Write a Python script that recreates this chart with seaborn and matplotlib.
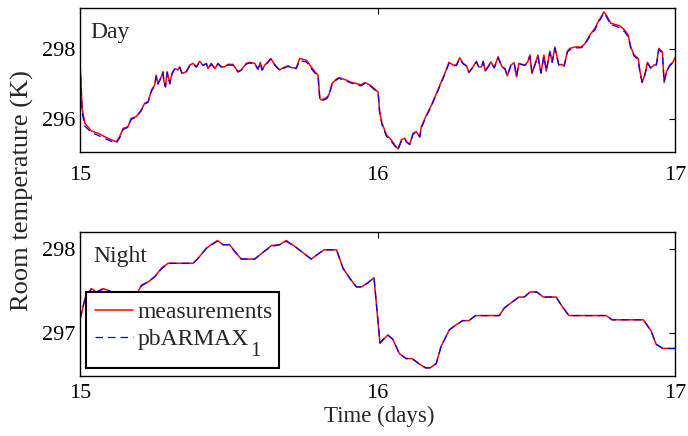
import matplotlib
matplotlib.use("Agg")
import matplotlib.pyplot as plt
from matplotlib.patches import Rectangle
import seaborn as sns
import pandas as pd

# ---------------- data ----------------
day_t = [15.000, 15.007, 15.016, 15.038, 15.061, 15.083, 15.105, 15.122, 15.133, 15.145,
         15.161, 15.172, 15.189, 15.206, 15.217, 15.229, 15.240, 15.251, 15.256, 15.262,
         15.273, 15.279, 15.282, 15.287, 15.293, 15.302, 15.309, 15.318, 15.329, 15.335,
         15.343, 15.357, 15.369, 15.380, 15.391, 15.402, 15.413, 15.425, 15.430, 15.441,
         15.453, 15.464, 15.475, 15.486, 15.497, 15.514, 15.531, 15.542, 15.559, 15.570,
         15.587, 15.598, 15.606, 15.612, 15.621, 15.630, 15.641, 15.654, 15.671, 15.682,
         15.699, 15.713, 15.727, 15.738, 15.761, 15.777, 15.794, 15.800, 15.806, 15.811,
         15.828, 15.836, 15.847, 15.858, 15.870, 15.884, 15.895, 15.912, 15.929, 15.944,
         15.957, 15.974, 15.991, 16.002, 16.007, 16.015, 16.030, 16.046, 16.058, 16.069,
         16.080, 16.091, 16.097, 16.108, 16.119, 16.130, 16.142, 16.147, 16.164, 16.181,
         16.198, 16.214, 16.226, 16.240, 16.254, 16.265, 16.276, 16.287, 16.299, 16.307,
         16.321, 16.332, 16.340, 16.349, 16.355, 16.362, 16.371, 16.381, 16.392, 16.405,
         16.418, 16.428, 16.436, 16.448, 16.459, 16.467, 16.475, 16.486, 16.495, 16.504,
         16.512, 16.519, 16.528, 16.539, 16.549, 16.559, 16.567, 16.579, 16.587, 16.596,
         16.609, 16.618, 16.627, 16.638, 16.646, 16.663, 16.685, 16.697, 16.713, 16.730,
         16.744, 16.752, 16.760, 16.769, 16.784, 16.797, 16.814, 16.831, 16.842, 16.851,
         16.862, 16.876, 16.881, 16.889, 16.898, 16.907, 16.918, 16.929, 16.937, 16.945,
         16.957, 16.963, 16.971, 16.982, 16.993, 16.999]

day_meas = [297.64, 296.32, 295.88, 295.66, 295.59, 295.49, 295.40, 295.35, 295.49, 295.73,
            295.78, 296.02, 296.07, 296.26, 296.45, 296.50, 296.83, 296.98, 297.26, 297.02,
            297.21, 297.36, 297.07, 296.93, 297.36, 297.02, 297.31, 297.45, 297.41, 297.50,
            297.31, 297.36, 297.55, 297.60, 297.50, 297.66, 297.55, 297.60, 297.45, 297.60,
            297.45, 297.60, 297.50, 297.50, 297.57, 297.57, 297.36, 297.41, 297.60, 297.63,
            297.60, 297.43, 297.63, 297.41, 297.55, 297.63, 297.74, 297.57, 297.41, 297.47,
            297.53, 297.47, 297.47, 297.74, 297.69, 297.50, 297.31, 297.26, 296.59, 296.55,
            296.61, 296.69, 297.02, 297.12, 297.19, 297.15, 297.12, 297.05, 297.02, 296.98,
            297.05, 296.98, 296.86, 296.77, 296.21, 295.88, 295.54, 295.40, 295.25, 295.14,
            295.40, 295.45, 295.35, 295.27, 295.59, 295.64, 295.49, 295.78, 296.11, 296.40,
            296.74, 297.07, 297.31, 297.63, 297.55, 297.55, 297.76, 297.60, 297.53, 297.34,
            297.50, 297.66, 297.50, 297.50, 297.66, 297.38, 297.50, 297.64, 297.47, 297.79,
            297.50, 297.45, 297.24, 297.55, 297.62, 297.21, 297.60, 297.57, 297.55, 297.63,
            297.84, 297.31, 297.55, 297.84, 297.31, 297.84, 297.38, 297.95, 297.64, 298.07,
            297.55, 297.57, 297.53, 297.95, 298.03, 298.07, 298.07, 298.17, 298.41, 298.60,
            298.84, 298.94, 299.08, 298.98, 298.75, 298.72, 298.68, 298.55, 298.41, 298.07,
            297.84, 297.74, 297.41, 297.05, 297.26, 297.63, 297.47, 297.55, 297.57, 298.03,
            297.93, 297.05, 297.36, 297.55, 297.64, 297.76]

day_model = [297.60, 296.20, 295.80, 295.61, 295.53, 295.44, 295.36, 295.31, 295.45, 295.70,
             295.76, 295.99, 296.05, 296.24, 296.43, 296.48, 296.80, 296.96, 297.22, 297.00,
             297.19, 297.33, 297.05, 296.92, 297.33, 297.01, 297.29, 297.43, 297.40, 297.48,
             297.30, 297.35, 297.53, 297.58, 297.49, 297.64, 297.54, 297.58, 297.45, 297.58,
             297.45, 297.58, 297.49, 297.49, 297.55, 297.55, 297.35, 297.40, 297.58, 297.61,
             297.58, 297.43, 297.61, 297.41, 297.53, 297.61, 297.72, 297.55, 297.39, 297.45,
             297.51, 297.46, 297.45, 297.68, 297.64, 297.45, 297.27, 297.22, 296.55, 296.52,
             296.58, 296.66, 296.98, 297.10, 297.17, 297.13, 297.09, 297.03, 296.99, 296.95,
             297.02, 296.96, 296.83, 296.74, 296.17, 295.83, 295.50, 295.36, 295.22, 295.12,
             295.37, 295.43, 295.34, 295.27, 295.56, 295.62, 295.48, 295.74, 296.08, 296.37,
             296.71, 297.04, 297.28, 297.60, 297.53, 297.54, 297.73, 297.59, 297.52, 297.34,
             297.49, 297.64, 297.50, 297.49, 297.64, 297.39, 297.49, 297.62, 297.47, 297.76,
             297.50, 297.44, 297.25, 297.53, 297.60, 297.23, 297.58, 297.56, 297.54, 297.61,
             297.80, 297.33, 297.53, 297.80, 297.33, 297.80, 297.39, 297.91, 297.63, 298.03,
             297.55, 297.56, 297.52, 297.92, 297.99, 298.04, 298.05, 298.14, 298.37, 298.56,
             298.80, 298.91, 299.05, 298.94, 298.70, 298.68, 298.62, 298.50, 298.36, 298.03,
             297.81, 297.70, 297.39, 297.06, 297.25, 297.60, 297.46, 297.53, 297.55, 297.99,
             297.90, 297.08, 297.35, 297.53, 297.62, 297.73]

night_t = [15.000, 15.018, 15.038, 15.055, 15.077, 15.094, 15.118, 15.145, 15.168, 15.195,
           15.206, 15.229, 15.251, 15.273, 15.296, 15.329, 15.380, 15.397, 15.425, 15.441,
           15.462, 15.481, 15.503, 15.520, 15.542, 15.587, 15.615, 15.643, 15.671, 15.693,
           15.722, 15.755, 15.777, 15.800, 15.820, 15.862, 15.884, 15.907, 15.929, 15.946,
           15.968, 15.988, 16.008, 16.034, 16.051, 16.073, 16.096, 16.116, 16.139, 16.161,
           16.176, 16.197, 16.213, 16.241, 16.264, 16.286, 16.307, 16.329, 16.409, 16.426,
           16.452, 16.475, 16.493, 16.513, 16.535, 16.557, 16.600, 16.620, 16.643, 16.768,
           16.788, 16.893, 16.919, 16.936, 16.959, 17.000]

night_meas = [297.16, 297.43, 297.53, 297.49, 297.53, 297.51, 297.47, 297.44, 297.46, 297.49,
              297.57, 297.61, 297.67, 297.77, 297.83, 297.83, 297.83, 297.89, 298.01, 298.05,
              298.10, 298.05, 298.05, 297.97, 297.88, 297.88, 297.96, 298.04, 298.05, 298.10,
              298.03, 297.94, 297.88, 297.94, 297.99, 297.99, 297.77, 297.65, 297.55, 297.55,
              297.60, 297.66, 296.88, 296.98, 296.93, 296.76, 296.70, 296.70, 296.64, 296.59,
              296.59, 296.64, 296.84, 297.04, 297.10, 297.15, 297.15, 297.21, 297.21, 297.30,
              297.37, 297.43, 297.43, 297.49, 297.49, 297.43, 297.43, 297.32, 297.21, 297.21,
              297.16, 297.16, 297.03, 296.87, 296.82, 296.82]

night_model = [297.17, 297.43, 297.52, 297.49, 297.52, 297.51, 297.47, 297.44, 297.46, 297.49,
               297.56, 297.61, 297.67, 297.76, 297.83, 297.83, 297.83, 297.89, 298.01, 298.05,
               298.09, 298.05, 298.05, 297.97, 297.88, 297.88, 297.96, 298.03, 298.05, 298.09,
               298.03, 297.94, 297.88, 297.94, 297.99, 297.99, 297.77, 297.65, 297.55, 297.55,
               297.60, 297.66, 296.89, 296.98, 296.93, 296.76, 296.70, 296.70, 296.64, 296.59,
               296.59, 296.64, 296.84, 297.04, 297.10, 297.15, 297.15, 297.21, 297.21, 297.30,
               297.37, 297.43, 297.43, 297.49, 297.49, 297.43, 297.43, 297.32, 297.21, 297.21,
               297.16, 297.16, 297.03, 296.87, 296.82, 296.82]

x_ticks = [15, 16, 17]
day_yticks = [296, 298]
night_yticks = [297, 298]
series_names = ["measurements", "pbARMAX"]
model_subscript = "1"
panel_titles = ["Day", "Night"]

# ---------------- style ----------------
sns.set_theme(style="white")
plt.rcParams["font.family"] = ["Liberation Serif", "DejaVu Serif"]

RED = "#ff0000"
BLUE = "#0000ff"

fig = plt.figure(figsize=(6.88, 4.36), dpi=100)
ax1 = fig.add_axes([0.1163, 0.652, 0.865, 0.3296])
ax2 = fig.add_axes([0.1163, 0.1383, 0.865, 0.329])

day_df = pd.DataFrame({"t": day_t, "meas": day_meas, "model": day_model})
night_df = pd.DataFrame({"t": night_t, "meas": night_meas, "model": night_model})

for ax, df in [(ax1, day_df), (ax2, night_df)]:
    sns.lineplot(data=df, x="t", y="meas", ax=ax, color=RED, lw=1.1,
                 estimator=None, sort=False, label=series_names[0])
    sns.lineplot(data=df, x="t", y="model", ax=ax, color=BLUE, lw=0.9,
                 estimator=None, sort=False, label=series_names[1],
                 dashes=False, linestyle=(0, (6, 4)))

for ax in (ax1, ax2):
    ax.set_xlim(15, 17)
    ax.set_xticks(x_ticks)
    ax.set_xticklabels([str(v) for v in x_ticks])
    ax.set_xlabel("")
    ax.set_ylabel("")
    ax.tick_params(direction="in", top=True, right=True, length=4, width=0.8,
                   labelsize=16, colors="black")
    for s in ax.spines.values():
        s.set_color("black")
        s.set_linewidth(1.0)
        s.set_visible(True)
    ax.set_facecolor("white")

ax1.set_ylim(295.06, 299.19)
ax1.set_yticks(day_yticks)
ax1.set_yticklabels([str(v) for v in day_yticks])
ax1.tick_params(axis="x", pad=10)
ax1.tick_params(axis="y", pad=3)
ax1.get_legend().remove()

ax2.set_ylim(296.497, 298.198)
ax2.set_yticks(night_yticks)
ax2.set_yticklabels([str(v) for v in night_yticks])
ax2.tick_params(axis="x", pad=6)
ax2.tick_params(axis="y", pad=3)

ax1.text(0.018, 0.789, panel_titles[0], transform=ax1.transAxes, fontsize=17,
         va="baseline", ha="left")
ax2.text(0.022, 0.795, panel_titles[1], transform=ax2.transAxes, fontsize=17,
         va="baseline", ha="left")

# legend frame (drawn as a box behind the legend entries)
frame = Rectangle((0.010, 0.052), 0.324, 0.534, transform=ax2.transAxes,
                  facecolor="white", edgecolor="black", lw=1.5, zorder=4)
ax2.add_patch(frame)

leg = ax2.legend(loc="upper left", bbox_to_anchor=(0.0252, 0.514), borderaxespad=0,
                 borderpad=0, fontsize=17, handlelength=1.6, handletextpad=0.2,
                 labelspacing=0.22, frameon=False)
leg.set_zorder(5)
sub_txt = ax2.annotate(model_subscript, xy=(1, 0), xycoords=leg.get_texts()[1],
                       xytext=(0.8, -4), textcoords="offset points", fontsize=15,
                       va="baseline", ha="left", zorder=6)

fig.text(22 / 688, 1 - 191 / 436, "Room temperature (K)", rotation=90,
         ha="center", va="center", fontsize=19)
fig.text(379 / 688, 1 - 416 / 436, "Time (days)", ha="center", va="center",
         fontsize=16.5)

fig.savefig("out.png", dpi=100, facecolor="white")
